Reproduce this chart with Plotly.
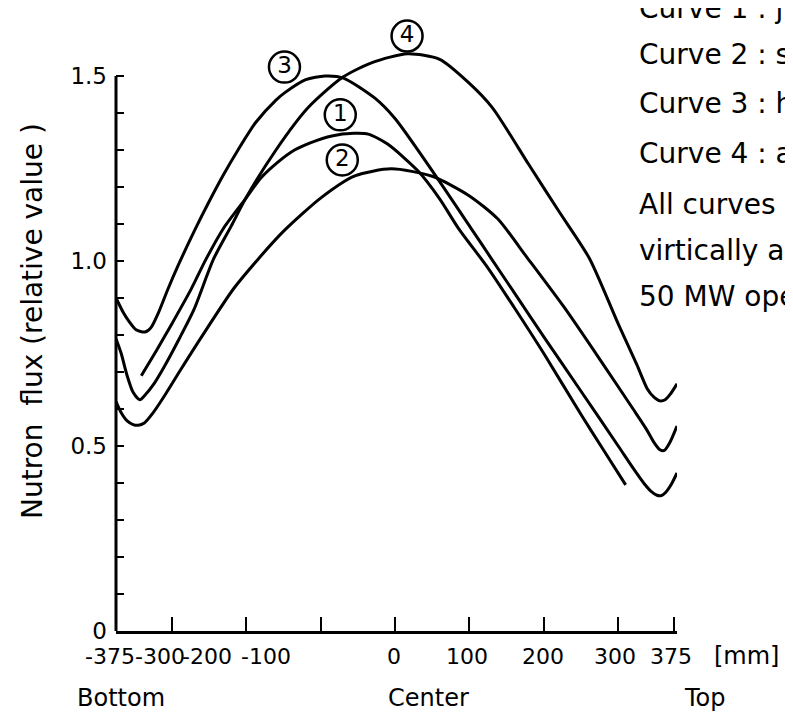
import plotly.graph_objects as go

# ---- data ----
curve1_x = [-341, -320, -300, -274, -254, -230, -201, -180, -157, -135, -113, -85, -55, -36, -10, 31, 60, 85, 125, 160, 200, 250, 280, 310]
curve1_y = [0.69, 0.76, 0.83, 0.924, 1.005, 1.09, 1.168, 1.225, 1.268, 1.30, 1.32, 1.338, 1.345, 1.343, 1.316, 1.243, 1.168, 1.089, 0.981, 0.875, 0.75, 0.585, 0.49, 0.395]

curve2_x = [-375, -368, -360, -352, -345, -337, -325, -310, -290, -260, -217, -184, -150, -100, -54, -5, 50, 100, 138, 178, 228, 280, 320, 338, 348, 356, 362, 369, 379]
curve2_y = [0.62, 0.59, 0.568, 0.558, 0.556, 0.562, 0.59, 0.635, 0.70, 0.795, 0.925, 1.005, 1.08, 1.17, 1.23, 1.249, 1.229, 1.176, 1.114, 1.008, 0.873, 0.72, 0.60, 0.545, 0.51, 0.49, 0.488, 0.508, 0.554]

curve3_x = [-375, -365, -358, -348, -336, -328, -318, -305, -291, -270, -250, -230, -211, -187, -160, -148, -120, -94, -70, -27, 0, 54, 102, 129, 160, 200, 250, 300, 320, 335, 345, 352, 358, 364, 371, 379]
curve3_y = [0.90, 0.86, 0.838, 0.814, 0.808, 0.82, 0.86, 0.925, 0.99, 1.08, 1.16, 1.235, 1.30, 1.375, 1.435, 1.455, 1.49, 1.50, 1.495, 1.44, 1.385, 1.232, 1.089, 1.008, 0.915, 0.795, 0.648, 0.50, 0.44, 0.398, 0.376, 0.367, 0.366, 0.375, 0.395, 0.427]

curve4_x = [-375, -368, -360, -352, -343, -335, -325, -310, -290, -270, -244, -220, -201, -160, -117, -70, -30, 17, 60, 100, 131, 180, 220, 261, 300, 325, 339, 348, 356, 363, 370, 379]
curve4_y = [0.79, 0.75, 0.69, 0.645, 0.625, 0.64, 0.665, 0.715, 0.79, 0.87, 1.005, 1.095, 1.168, 1.30, 1.414, 1.497, 1.537, 1.56, 1.545, 1.48, 1.414, 1.26, 1.135, 1.008, 0.83, 0.72, 0.655, 0.632, 0.622, 0.625, 0.64, 0.668]

label_text = ["1", "2", "3", "4"]
label_x = [-73.6, -70.9, -148.6, 16.2]
label_y = [1.395, 1.273, 1.524, 1.608]

xtick_vals = [-375, -300, -200, -100, 0, 100, 200, 300, 375]
xtick_text = ["-375", "-300", "-200", "-100", "0", "100", "200", "300", "375"]
ytick_vals = [round(0.1 * i, 1) for i in range(16)]
ytick_text = ["0", "", "", "", "", "0.5", "", "", "", "", "1.0", "", "", "", "", "1.5"]

notes = ["Curve 1 : j", "Curve 2 : s", "Curve 3 : h", "Curve 4 : a",
         "All curves a", "virtically av", "50 MW ope"]
position_labels = ["Bottom", "Center", "Top"]
y_title = "Nutron\u00a0 flux (relative value )"

# ---- layout / style constants ----
FONT = "DejaVu Sans, sans-serif"
W, H = 793, 715
ML, MR, MT, MB = 108, 124, 0, 92
PW, PH = W - ML - MR, H - MT - MB
X0, X1 = -375, 379
YMAX = PH / 370.0


def px(xp):
    return (xp - ML) / PW


def py(yp):
    return (H - MB - yp) / PH


fig = go.Figure()
for xs, ys in [(curve1_x, curve1_y), (curve2_x, curve2_y), (curve3_x, curve3_y), (curve4_x, curve4_y)]:
    fig.add_trace(go.Scatter(x=xs, y=ys, mode="lines",
                             line=dict(color="black", width=3, shape="spline", smoothing=0.7),
                             showlegend=False, hoverinfo="skip"))

# circled curve numbers
fig.add_trace(go.Scatter(x=label_x, y=label_y, mode="markers+text", text=label_text,
                         textposition="middle center",
                         textfont=dict(family=FONT, size=23, color="black"),
                         marker=dict(symbol="circle", size=31, color="white",
                                     line=dict(color="black", width=2.5)),
                         showlegend=False, hoverinfo="skip", cliponaxis=False))

ann = []
# x tick labels (hand-placed in the original, shifted relative to ticks)
xlabel_shift = [-6, -12, -39, -55, -1, -2, -1, -3, -3]
for v, t, s in zip(xtick_vals, xtick_text, xlabel_shift):
    ann.append(dict(x=v, y=py(648), xref="x", yref="paper", text=t, showarrow=False,
                    xanchor="center", yanchor="middle", xshift=s,
                    font=dict(family=FONT, size=22, color="black")))
ann.append(dict(x=px(704), y=py(648), xref="paper", yref="paper", text="[mm]", showarrow=False,
                xanchor="left", yanchor="middle", font=dict(family=FONT, size=24, color="black")))

pos_center = [113, 420, 697]
for t, xc in zip(position_labels, pos_center):
    ann.append(dict(x=px(xc), y=py(690), xref="paper", yref="paper", text=t, showarrow=False,
                    xanchor="center", yanchor="middle",
                    font=dict(family=FONT, size=24, color="black")))

ann.append(dict(x=px(25), y=py(313), xref="paper", yref="paper", text=y_title,
                textangle=-90, showarrow=False, xanchor="center", yanchor="middle",
                font=dict(family=FONT, size=28, color="black")))

note_y = [0, 47, 96, 145, 196, 242, 288]
for t, y in zip(notes, note_y):
    ann.append(dict(x=px(629), y=py(y), xref="paper", yref="paper", text=t, showarrow=False,
                    xanchor="left", yanchor="middle", font=dict(family=FONT, size=28, color="black")))

fig.update_layout(
    width=W, height=H, margin=dict(l=ML, r=MR, t=MT, b=MB),
    paper_bgcolor="white", plot_bgcolor="white",
    annotations=ann,
    shapes=[dict(type="line", xref="paper", yref="y", x0=0, x1=0, y0=0, y1=1.5,
                 line=dict(color="black", width=3))],
    xaxis=dict(range=[X0, X1], showline=True, linecolor="black", linewidth=3,
               ticks="inside", tickvals=xtick_vals[1:], ticklen=14, tickwidth=2, tickcolor="black",
               showticklabels=False, showgrid=False, zeroline=False, automargin=False),
    yaxis=dict(range=[0, YMAX], showline=False,
               ticks="inside", tickvals=ytick_vals, ticktext=ytick_text, ticklen=8, tickwidth=2,
               tickcolor="black", ticklabelstandoff=8,
               tickfont=dict(family=FONT, size=23, color="black"),
               showgrid=False, zeroline=False, automargin=False),
)

fig.write_html("out.html")
